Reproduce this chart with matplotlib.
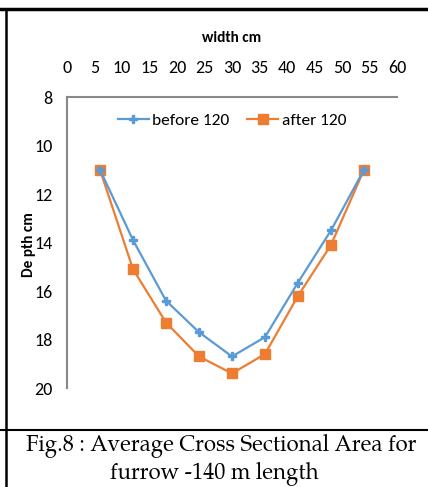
import matplotlib.pyplot as plt
from matplotlib.lines import Line2D

# furrow cross section, width vs depth (cm)
width = [6, 12, 18, 24, 30, 36, 42, 48, 54]
depth_before = [11.0, 13.9, 16.4, 17.7, 18.7, 17.9, 15.65, 13.5, 11.0]
depth_after = [11.0, 15.1, 17.3, 18.7, 19.4, 18.6, 16.2, 14.1, 11.0]
xticks = list(range(0, 61, 5))
yticks = [8, 10, 12, 14, 16, 18, 20]

sans = ['Carlito', 'DejaVu Sans']
serif = ['TeX Gyre Pagella', 'Liberation Serif', 'DejaVu Serif']

fig = plt.figure(figsize=(4.28, 4.87), dpi=100)
W, H = 428, 487

ax = fig.add_axes([67 / W, 1 - 388 / H, 330 / W, 291 / H])
ax.plot(width, depth_before, color='#5B9BD5', lw=1.6, marker='P',
        ms=6, label='before 120', zorder=3)
ax.plot(width, depth_after, color='#ED7D31', lw=1.6, marker='s',
        ms=7, label='after 120', zorder=2)

ax.set_xlim(0, 60)
ax.set_ylim(20, 8)
ax.set_xticks(xticks)
ax.set_yticks(yticks)
ax.xaxis.tick_top()
ax.tick_params(axis='x', length=0, pad=15, labelsize=13)
ax.tick_params(axis='y', length=0, pad=10.5, labelsize=13)
for t in ax.get_xticklabels() + ax.get_yticklabels():
    t.set_family(sans)
for s in ['right', 'bottom']:
    ax.spines[s].set_visible(False)
for s in ['top', 'left']:
    ax.spines[s].set_color('#888888')
    ax.spines[s].set_linewidth(1.5)

ax.legend(loc='upper center', bbox_to_anchor=(0.5, 1.0), ncol=2, frameon=False,
          prop={'family': sans, 'size': 12.5}, handlelength=1.8,
          handletextpad=0.2, columnspacing=1.0)

fig.text(232 / W, 1 - 38 / H, 'width cm', ha='center', va='center',
         fontsize=11, fontweight='bold', family=sans)
fig.text(29 / W, 1 - 245 / H, 'De pth cm', ha='center', va='center',
         rotation=90, fontsize=11, fontweight='bold', family=sans)

# table borders around the figure
fig.add_artist(Line2D([0, 1], [1 - 9 / H, 1 - 9 / H], color='black', lw=2.5))
fig.add_artist(Line2D([6 / W, 6 / W], [0, 1 - 9 / H], color='black', lw=1.8))
fig.add_artist(Line2D([0, 1], [1 - 430 / H, 1 - 430 / H], color='black', lw=1.5))

fig.text(221 / W, 1 - 446 / H, 'Fig.8 : Average Cross Sectional Area for',
         ha='center', va='center', fontsize=16, family=serif)
fig.text(214 / W, 1 - 474 / H, 'furrow -140 m length',
         ha='center', va='center', fontsize=16, family=serif)

fig.savefig('out.png', dpi=100)
